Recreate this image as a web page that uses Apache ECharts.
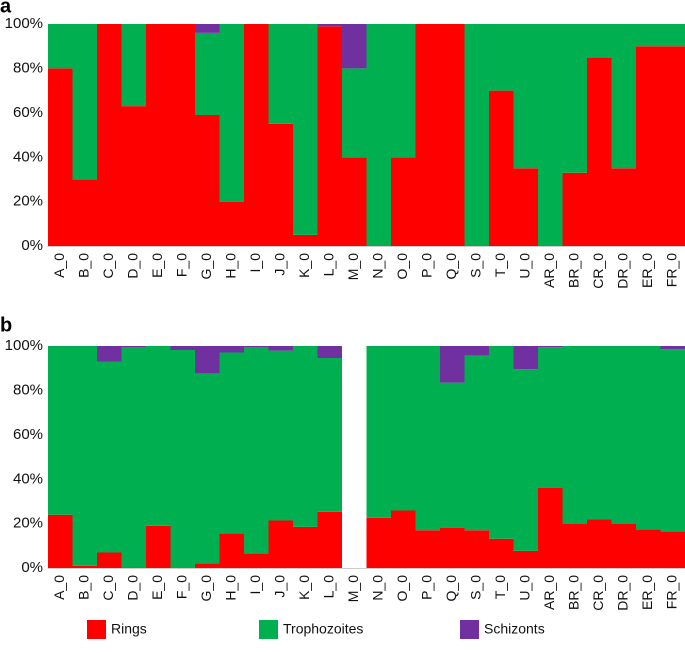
<!DOCTYPE html>
<html>
<head>
<meta charset="utf-8">
<script src="https://cdn.jsdelivr.net/npm/echarts@6/dist/echarts.min.js"></script>
<style>html,body{margin:0;padding:0;background:#fff;}#c{width:685px;height:653px;}</style>
</head>
<body>
<div id="c"></div>
<script>
const categories = ['A_0','B_0','C_0','D_0','E_0','F_0','G_0','H_0','I_0','J_0','K_0','L_0','M_0','N_0','O_0','P_0','Q_0','S_0','T_0','U_0','AR_0','BR_0','CR_0','DR_0','ER_0','FR_0'];
const yTicks = [0, 20, 40, 60, 80, 100];

// Panel a (percent)
const ringsA = [80,30,100,63,100,100,59,20,100,55,5,99,40,0,40,100,100,0,70,35,0,33,85,35,90,90];
const trophA = [20,70,0,37,0,0,37,80,0,45,95,0,40,100,60,0,0,100,30,65,100,67,15,65,10,10];
const schizA = [0,0,0,0,0,0,4,0,0,0,0,1,20,0,0,0,0,0,0,0,0,0,0,0,0,0];

// Panel b (percent), M_0 has no data
const ringsB = [24,1,7,0.3,19,0,2.1,15.6,6.6,21.4,18.5,25.3,null,22.6,25.9,17.0,18.2,17.0,13.2,7.7,36.2,19.8,22.0,19.8,17.4,16.5];
const trophB = [76,99,86,99.1,81,98.2,85.4,81.5,92.8,76.5,81.5,69.3,null,77.4,74.1,83.0,65.3,78.6,86.8,81.9,63.3,80.2,78.0,80.2,82.6,82.1];
const schizB = [0,0,7,0.6,0,1.8,12.5,2.9,0.6,2.1,0,5.4,null,0,0,0,16.5,4.4,0,10.4,0.5,0,0,0,0,1.4];

const seriesNames = ['Rings','Trophozoites','Schizonts'];
const colors = ['#FF0000','#00B050','#7030A0'];

const font = 'Liberation Sans, Arial, Helvetica, sans-serif';
// drawn at 2x so bar edges at half pixels meet without light seams
const chart = echarts.init(document.getElementById('c'), null, {renderer:'canvas', devicePixelRatio:2});

function xAxis(grid){
  return {
    type:'category', gridIndex:grid, data:categories,
    axisTick:{show:false},
    axisLine:{show:true, lineStyle:{color:'#cccccc', width:1}},
    axisLabel:{rotate:90, interval:0, fontSize:14, color:'#111', fontFamily:font, margin:7}
  };
}
function yAxis(grid){
  return {
    type:'value', gridIndex:grid, min:yTicks[0], max:yTicks[yTicks.length-1], interval:20,
    axisLine:{show:false}, axisTick:{show:false}, splitLine:{show:false},
    axisLabel:{formatter:'{value}%', fontSize:15, color:'#111', fontFamily:font, margin:5}
  };
}
function bars(name, data, grid, stack, color){
  return {
    name:name, type:'bar', stack:stack, xAxisIndex:grid, yAxisIndex:grid,
    data:data.map(v => (v === 0 ? null : v)), barWidth:'100%', barCategoryGap:'0%',
    itemStyle:{color:color}, emphasis:{disabled:true}, silent:true
  };
}

const legendTops = 620;
const legendText = {fontSize:14, color:'#111', fontFamily:font};
chart.setOption({
  animation:false,
  color:colors,
  textStyle:{fontFamily:font},
  grid:[
    {left:48, top:24, width:637, height:222},
    {left:48, top:346, width:637, height:222}
  ],
  xAxis:[xAxis(0), xAxis(1)],
  yAxis:[yAxis(0), yAxis(1)],
  legend:[
    {data:['Rings'], left:87, top:legendTops, itemWidth:19, itemHeight:19, itemGap:8, padding:0, textStyle:legendText, icon:'rect', selectedMode:false},
    {data:['Trophozoites'], left:259, top:legendTops, itemWidth:19, itemHeight:19, itemGap:8, padding:0, textStyle:legendText, icon:'rect', selectedMode:false},
    {data:['Schizonts'], left:460, top:legendTops, itemWidth:19, itemHeight:19, itemGap:8, padding:0, textStyle:legendText, icon:'rect', selectedMode:false}
  ],
  title:[
    {text:'a', left:0, top:-3, padding:0, textStyle:{fontSize:20, fontWeight:'bold', color:'#000', fontFamily:font}},
    {text:'b', left:0, top:316, padding:0, textStyle:{fontSize:20, fontWeight:'bold', color:'#000', fontFamily:font}}
  ],
  series:[
    bars(seriesNames[0], ringsA, 0, 'a', colors[0]),
    bars(seriesNames[1], trophA, 0, 'a', colors[1]),
    bars(seriesNames[2], schizA, 0, 'a', colors[2]),
    bars(seriesNames[0], ringsB, 1, 'b', colors[0]),
    bars(seriesNames[1], trophB, 1, 'b', colors[1]),
    bars(seriesNames[2], schizB, 1, 'b', colors[2])
  ]
});
</script>
</body>
</html>
